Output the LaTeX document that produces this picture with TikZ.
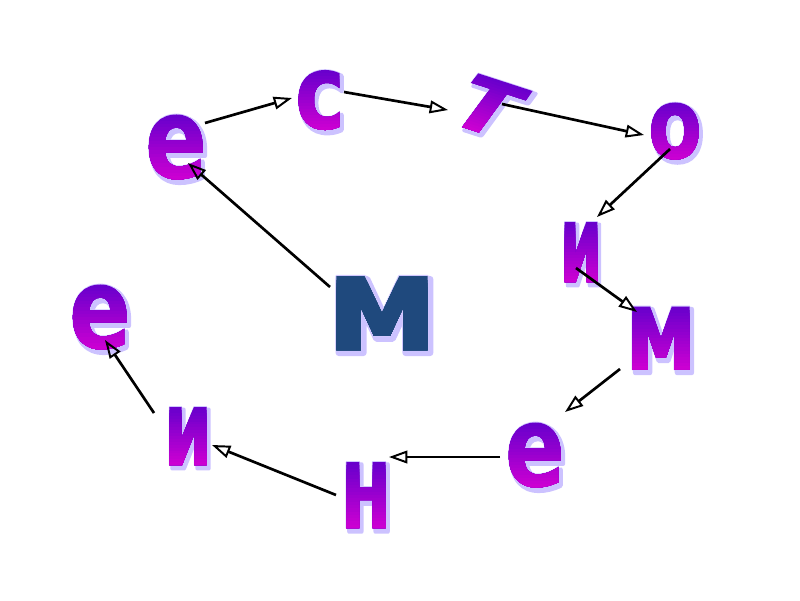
\documentclass[tikz,border=0pt]{standalone}
\usepackage{fontspec}
\setmainfont{DejaVu Sans}
\usepackage{graphicx}
\usetikzlibrary{arrows.meta}
\definecolor{shadc}{RGB}{204,194,255}
\newlength\pxu \setlength\pxu{0.025cm}
\newcount\bandi
% letter filled with a vertical gradient (top rgb -> bottom rgb, 0..255)
\newcommand\cliptext[7]{%
  \setbox0=\hbox{\bfseries #1}%
  \pgfmathsetmacro\gW{\wd0*0.99626}%
  \pgfmathsetmacro\gH{\ht0*0.99626}%
  \pgfmathsetmacro\gD{\dp0*0.99626}%
  \pgfmathsetmacro\gT{\gH+\gD}%
  \pgfmathsetmacro\gX{-\gW-3}%
  \pgfmathsetmacro\gWW{\gW+6}%
  \pgfmathsetmacro\gY{-\gD-3}%
  \def\bandcode{}%
  \bandi=0
  \loop
    \ifnum\bandi=0 \pgfmathsetmacro\gtop{\gH+3}\else\pgfmathsetmacro\gtop{\gH-\gT*\bandi/20}\fi
    \pgfmathsetmacro\ghh{\gtop-\gY}%
    \pgfmathsetmacro\gt{(\bandi+0.5)/20}%
    \pgfmathsetmacro\cR{(#2+(#5-#2)*\gt)/255}%
    \pgfmathsetmacro\cG{(#3+(#6-#3)*\gt)/255}%
    \pgfmathsetmacro\cB{(#4+(#7-#4)*\gt)/255}%
    \edef\bandcode{\bandcode\space\cR\space\cG\space\cB\space rg \gX\space\gY\space\gWW\space\ghh\space re f}%
    \advance\bandi by 1
  \ifnum\bandi<20 \repeat
  \special{pdf:literal direct q 0.82 0.78 1 RG 0.15 w 1 j 5 Tr}%
  \box0
  \special{pdf:literal \bandcode}%
  \special{pdf:literal direct Q}%
}
% soft lavender shadow: letter filled and stroked
\newcommand\shtext[1]{%
  \special{pdf:literal direct q 0.8 0.76 1 rg 0.8 0.76 1 RG 0.45 w 1 j 2 Tr}%
  \bfseries #1%
  \special{pdf:literal direct Q}}
\newcommand\gltr[3]{\resizebox*{#1\pxu}{#2\pxu}{\cliptext{#3}{102}{0}{204}{206}{0}{210}}}
\newcommand\nltr[3]{\resizebox*{#1\pxu}{#2\pxu}{\cliptext{#3}{31}{73}{125}{31}{73}{125}}}
\newcommand\sltr[3]{\resizebox*{#1\pxu}{#2\pxu}{\shtext{#3}}}
\tikzset{
  ltr/.style={inner sep=0pt, outer sep=0pt, anchor=center},
  shd/.style={ltr, text=shadc, shift={(2.5,3)}},
  conn/.style={-{Triangle[open,length=13pt,width=9pt,line width=1.4pt]}, line width=1.9pt, black},
}
\begin{document}
\begin{tikzpicture}[x=0.025cm,y=-0.025cm]
\useasboundingbox (0,0) rectangle (800,600);
% shadows
\node[shd] (sM) at (382,313) {\sltr{115}{74}{м}};
\node[shd] (se1) at (176,147) {\sltr{62}{65}{е}};
\node[shd] (ss) at (320,100) {\sltr{50}{60}{с}};
\node[shd,rotate=-18,xslant=0.33] (st) at (488,106) {\sltr{58}{56}{т}};
\node[shd] (so) at (675,131) {\sltr{54}{57}{о}};
\node[shd] (si1) at (581,252) {\sltr{43}{60}{и}};
\node[shd] (sm2) at (661,338) {\sltr{72}{63}{м}};
\node[shd] (se2) at (535,455) {\sltr{60}{65}{е}};
\node[shd] (sn) at (366,495) {\sltr{52}{66}{н}};
\node[shd] (si2) at (188,436) {\sltr{49}{58}{и}};
\node[shd] (se3) at (100,317) {\sltr{62}{65}{е}};
% letters
\node[ltr] (M) at (382,313) {\nltr{115}{74}{м}};
\node[ltr] (e1) at (176,147) {\gltr{62}{65}{е}};
\node[ltr] (s) at (320,100) {\gltr{50}{60}{с}};
\node[ltr,rotate=-18,xslant=0.33] (t) at (488,106) {\gltr{58}{56}{т}};
\node[ltr] (o) at (675,131) {\gltr{54}{57}{о}};
\node[ltr] (i1) at (581,252) {\gltr{43}{60}{и}};
\node[ltr] (m2) at (661,338) {\gltr{72}{63}{м}};
\node[ltr] (e2) at (535,455) {\gltr{60}{65}{е}};
\node[ltr] (n) at (366,495) {\gltr{52}{66}{н}};
\node[ltr] (i2) at (188,436) {\gltr{49}{58}{и}};
\node[ltr] (e3) at (100,317) {\gltr{62}{65}{е}};
% connectors
\draw[conn] ([shift={(-52,-26)}]M.center) -- ([shift={(12,16)}]e1.center);
\draw[conn] ([shift={(29,-24)}]e1.center) -- ([shift={(-28,-2)}]s.center);
\draw[conn] ([shift={(24,-8)}]s.center) -- ([shift={(-40,4)}]t.center);
\draw[conn] ([shift={(14,-2)}]t.center) -- ([shift={(-31,4)}]o.center);
\draw[conn] ([shift={(-5,18)}]o.center) -- ([shift={(16,-35)}]i1.center);
\draw[conn] ([shift={(-5,16)}]i1.center) -- ([shift={(-24,-26)}]m2.center);
\draw[conn] ([shift={(-41,31)}]m2.center) -- ([shift={(30,-43)}]e2.center);
\draw[conn] ([shift={(-35,2)}]e2.center) -- ([shift={(23,-38)}]n.center);
\draw[conn] ([shift={(-30,0)}]n.center) -- ([shift={(24,9)}]i2.center);
\draw[conn] ([shift={(-34,-23)}]i2.center) -- ([shift={(5,23)}]e3.center);
\end{tikzpicture}
\end{document}
